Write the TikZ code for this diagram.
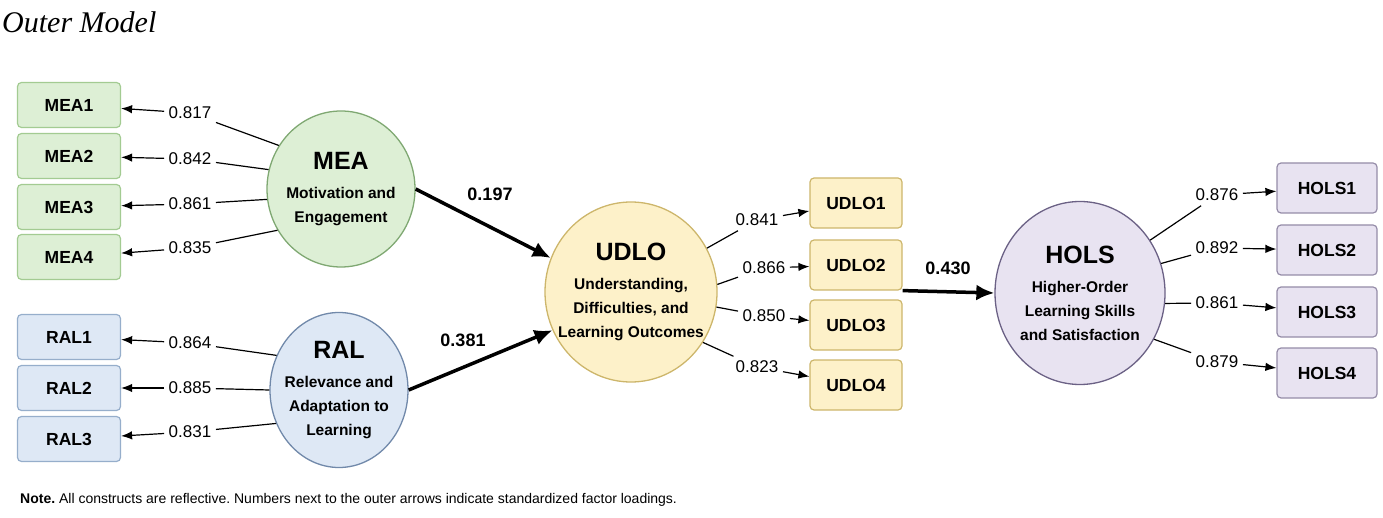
\documentclass[tikz,border=0pt]{standalone}
\usepackage{fontspec}
\setmainfont{Liberation Sans}
\newfontfamily\captionserif{Liberation Serif}
\usetikzlibrary{arrows.meta,shapes.geometric}
\frenchspacing

\definecolor{meafill}{HTML}{DDEFD5}
\definecolor{meadraw}{HTML}{A3CB92}
\definecolor{meacirc}{HTML}{7FA872}
\definecolor{ralfill}{HTML}{DEE8F5}
\definecolor{raldraw}{HTML}{96AECB}
\definecolor{ralcirc}{HTML}{7189AA}
\definecolor{udlofill}{HTML}{FDF1C9}
\definecolor{udlodraw}{HTML}{CDB66B}
\definecolor{holsfill}{HTML}{E8E3F1}
\definecolor{holsdraw}{HTML}{958CA8}
\definecolor{holscirc}{HTML}{6B6185}

\begin{document}
\begin{tikzpicture}[x=1pt,y=-1pt,
    indicator/.style 2 args={draw=#1,fill=#2,rounded corners=4pt,line width=1.2pt,inner sep=0pt,font=\fontsize{17.5}{20}\selectfont\bfseries},
    meabox/.style={indicator={meadraw}{meafill},minimum width=103,minimum height=45},
    ralbox/.style={indicator={raldraw}{ralfill},minimum width=103,minimum height=45},
    udlobox/.style={indicator={udlodraw}{udlofill},minimum width=92,minimum height=50},
    holsbox/.style={indicator={holsdraw}{holsfill},minimum width=100,minimum height=50},
    construct/.style 2 args={ellipse,draw=#1,fill=#2,line width=1.3pt,inner sep=0pt},
    lvtext/.style={align=center,font=\fontsize{15.5}{24}\selectfont\bfseries},
    loading/.style={font=\fontsize{17}{19}\selectfont,inner sep=4.5pt},
    coef/.style={font=\fontsize{18}{20}\selectfont\bfseries},
    loadline/.style={line width=1.2pt},
    loadarrow/.style={line width=1.2pt,-{Latex[length=11pt,width=8.5pt]}},
    structural/.style={line width=3.5pt,-{Latex[length=18pt,width=16pt]}}]
\useasboundingbox (0,0) rectangle (1383,518);

\node[anchor=base west,inner sep=0pt,font=\captionserif\fontsize{30}{32}\selectfont\itshape] (title) at (2,33) {Outer Model};

% constructs
\node[construct={meacirc}{meafill},minimum width=148,minimum height=156] (MEA) at (341,189) {};
\node[lvtext] (MEAtext) at (MEA) {{\fontsize{25}{29}\selectfont MEA}\\[5pt]Motivation and\\Engagement};
\node[construct={ralcirc}{ralfill},minimum width=138,minimum height=155] (RAL) at (339,390) {};
\node[lvtext] (RALtext) at (RAL) {{\fontsize{25}{29}\selectfont RAL}\\[5pt]Relevance and\\Adaptation to\\Learning};
\node[construct={udlodraw}{udlofill},minimum width=172,minimum height=180] (UDLO) at (631,292) {};
\node[lvtext] (UDLOtext) at (UDLO) {{\fontsize{25}{29}\selectfont UDLO}\\[5pt]Understanding,\\Difficulties, and\\Learning Outcomes};
\node[construct={holscirc}{holsfill},minimum width=170,minimum height=183] (HOLS) at (1080,293) {};
\node[lvtext] (HOLStext) at (HOLS) {{\fontsize{25}{29}\selectfont HOLS}\\[5pt]Higher-Order\\Learning Skills\\and Satisfaction};

% indicators
\node[meabox] (MEA1) at (69,105) {MEA1};
\node[meabox] (MEA2) at (69,156) {MEA2};
\node[meabox] (MEA3) at (69,207) {MEA3};
\node[meabox] (MEA4) at (69,257) {MEA4};
\node[ralbox] (RAL1) at (69,337) {RAL1};
\node[ralbox] (RAL2) at (69,388) {RAL2};
\node[ralbox] (RAL3) at (69,439) {RAL3};
\node[udlobox] (UDLO1) at (856,203) {UDLO1};
\node[udlobox] (UDLO2) at (856,265) {UDLO2};
\node[udlobox] (UDLO3) at (856,325) {UDLO3};
\node[udlobox] (UDLO4) at (856,385) {UDLO4};
\node[holsbox] (HOLS1) at (1327,188) {HOLS1};
\node[holsbox] (HOLS2) at (1327,250) {HOLS2};
\node[holsbox] (HOLS3) at (1327,312) {HOLS3};
\node[holsbox] (HOLS4) at (1327,373) {HOLS4};

% loadings
\node[loading] (lm1) at (190,113) {0.817};
\node[loading] (lm2) at (190,159) {0.842};
\node[loading] (lm3) at (190,204) {0.861};
\node[loading] (lm4) at (190,248) {0.835};
\draw[loadline] (MEA.145) -- (lm1);
\draw[loadline] (MEA.165) -- (lm2);
\draw[loadline] (MEA.188) -- (lm3);
\draw[loadline] (MEA.213) -- (lm4);
\draw[loadarrow] (lm1) -- (MEA1);
\draw[loadarrow] (lm2) -- (MEA2);
\draw[loadarrow] (lm3) -- (MEA3);
\draw[loadarrow] (lm4) -- (MEA4);

\node[loading] (lr1) at (190,343) {0.864};
\node[loading] (lr2) at (190,388) {0.885};
\node[loading] (lr3) at (190,432) {0.831};
\draw[loadline] (RAL.151) -- (lr1);
\draw[loadline] (RAL.180) -- (lr2);
\draw[loadline] (RAL.208) -- (lr3);
\draw[loadarrow] (lr1) -- (RAL1);
\draw[loadarrow] (lr2) -- (RAL2);
\draw[loadarrow] (lr3) -- (RAL3);

\node[loading] (lu1) at (757,220) {0.841};
\node[loading] (lu2) at (764,268) {0.866};
\node[loading] (lu3) at (764,316) {0.850};
\node[loading] (lu4) at (757,367) {0.823};
\draw[loadline] (UDLO.30) -- (lu1);
\draw[loadline] (UDLO.5) -- (lu2);
\draw[loadline] (UDLO.-10) -- (lu3);
\draw[loadline] (UDLO.-35) -- (lu4);
\draw[loadarrow] (lu1) -- (UDLO1);
\draw[loadarrow] (lu2) -- (UDLO2);
\draw[loadarrow] (lu3) -- (UDLO3);
\draw[loadarrow] (lu4) -- (UDLO4);

\node[loading] (lh1) at (1217,195) {0.876};
\node[loading] (lh2) at (1217,248) {0.892};
\node[loading] (lh3) at (1217,303) {0.861};
\node[loading] (lh4) at (1217,362) {0.879};
\draw[loadline] (HOLS.37) -- (lh1);
\draw[loadline] (HOLS.20) -- (lh2);
\draw[loadline] (HOLS.-7) -- (lh3);
\draw[loadline] (HOLS.-32) -- (lh4);
\draw[loadarrow] (lh1) -- (HOLS1);
\draw[loadarrow] (lh2) -- (HOLS2);
\draw[loadarrow] (lh3) -- (HOLS3);
\draw[loadarrow] (lh4) -- (HOLS4);

% structural paths
\node[coef] (bMEA) at (490,194) {0.197};
\node[coef] (bRAL) at (463,340) {0.381};
\node[coef] (bUDLO) at (948,268) {0.430};
\draw[structural] (MEA.0) -- (UDLO.157);
\draw[structural] (RAL.0) -- (UDLO.206);
\draw[structural] (UDLO2.south east) -- (HOLS.west);

\node[anchor=base west,inner sep=0pt,font=\fontsize{14}{16}\selectfont] (note) at (20,503) {\textbf{Note.} All constructs are reflective. Numbers next to the outer arrows indicate standardized factor loadings.};
\end{tikzpicture}
\end{document}
